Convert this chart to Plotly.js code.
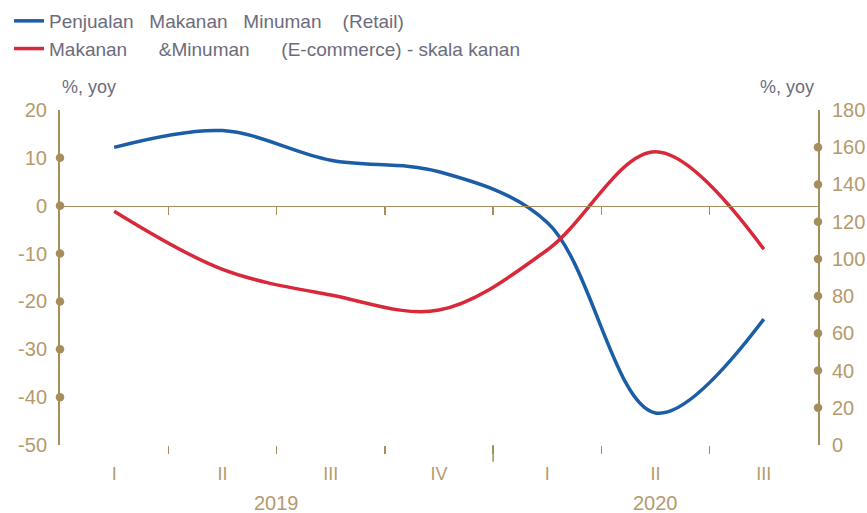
<!DOCTYPE html>
<html>
<head>
<meta charset="utf-8">
<script src="https://cdn.plot.ly/plotly-3.0.1.min.js"></script>
<style>html,body{margin:0;padding:0;background:#fff;}#chart{width:867px;height:513px;}</style>
</head>
<body>
<div id="chart"></div>
<script>
var quarterIdx = [0, 1, 2, 3, 4, 5, 6];
var quarterLabels = ['I', 'II', 'III', 'IV', 'I', 'II', 'III'];
var years = ['2019', '2020'];
var retail = [12.2, 15.7, 9.5, 7.1, -3.5, -43.3, -23.7];
var ecommerce = [125.6, 94.4, 80.6, 72.5, 104.8, 157.6, 105.2];
var leftDots = [10, 0, -10, -20, -30, -40];
var rightDots = [20, 40, 60, 80, 100, 120, 140, 160];
var leftTicks = [20, 10, 0, -10, -20, -30, -40, -50];
var leftTickText = ['20', '10', '0', '-10', '-20', '-30', '-40', '-50'];
var rightTicks = [0, 20, 40, 60, 80, 100, 120, 140, 160, 180];
var boundaries = [0.5, 1.5, 2.5, 3.5, 4.5, 5.5];

var tan = '#a48f5c';
var labelCol = '#b49a6c';
var textCol = '#6c6c7c';
var F = 'Liberation Sans, Arial, sans-serif';
function gap(n) { return new Array(n + 1).join('\u00a0'); }

var traces = [
  {x: quarterIdx, y: retail, type: 'scatter', mode: 'lines', xaxis: 'x', yaxis: 'y',
   name: 'Penjualan' + gap(3) + 'Makanan' + gap(3) + 'Minuman' + gap(4) + '(Retail)',
   line: {color: '#1b5ea6', width: 3.5, shape: 'spline', smoothing: 1}},
  {x: quarterIdx, y: ecommerce, type: 'scatter', mode: 'lines', xaxis: 'x', yaxis: 'y2',
   name: 'Makanan' + gap(6) + '&Minuman' + gap(6) + '(E-commerce) - skala kanan',
   line: {color: '#d8283a', width: 3.5, shape: 'spline', smoothing: 1}},
  {x: leftDots.map(function(){return -0.5;}), y: leftDots, type: 'scatter', mode: 'markers',
   xaxis: 'x', yaxis: 'y', showlegend: false, cliponaxis: false, hoverinfo: 'skip',
   marker: {color: tan, size: 8.5}},
  {x: rightDots.map(function(){return 6.5;}), y: rightDots, type: 'scatter', mode: 'markers',
   xaxis: 'x2', yaxis: 'y2', showlegend: false, cliponaxis: false, hoverinfo: 'skip',
   marker: {color: tan, size: 8.5}}
];

var layout = {
  width: 867, height: 513,
  margin: {l: 60, r: 49, t: 110, b: 68, autoexpand: false},
  paper_bgcolor: '#fff', plot_bgcolor: '#fff',
  font: {family: F, color: textCol, size: 17},
  showlegend: true,
  legend: {xref: 'container', yref: 'container', x: 9 / 867, y: 1 - 2 / 513, xanchor: 'left', yanchor: 'top',
           bgcolor: 'rgba(0,0,0,0)', font: {family: F, size: 19, color: textCol}, tracegroupgap: 0, itemwidth: 30},
  xaxis: {range: [-0.5, 6.5], tickmode: 'array', tickvals: quarterIdx, ticktext: quarterLabels,
          ticks: '', showline: false, showgrid: false, zeroline: false,
          tickfont: {family: F, size: 18, color: labelCol}, ticklabelstandoff: 16,
          minor: {tickmode: 'array', tickvals: boundaries, ticks: 'outside', ticklen: 8, tickwidth: 1.5, tickcolor: tan, showgrid: false}},
  xaxis2: {range: [-0.5, 6.5], overlaying: 'x', anchor: 'free', position: 50 / 70,
           tickmode: 'array', tickvals: boundaries, ticks: 'outside', ticklen: 8, tickwidth: 1.5, tickcolor: tan,
           showticklabels: false, showline: true, linecolor: tan, linewidth: 1.5, showgrid: false, zeroline: false},
  yaxis: {range: [-50, 20], tickmode: 'array', tickvals: leftTicks, ticktext: leftTickText,
          showline: true, linecolor: tan, linewidth: 2,
          ticks: '', showgrid: false, zeroline: false, tickfont: {family: F, size: 20, color: labelCol},
          ticklabelstandoff: 7},
  yaxis2: {range: [0, 180], overlaying: 'y', side: 'right', anchor: 'x', tickmode: 'array', tickvals: rightTicks,
           showline: true, linecolor: tan, linewidth: 2, ticks: '', showgrid: false, zeroline: false,
           tickfont: {family: F, size: 20, color: labelCol}, ticklabelstandoff: 8},
  shapes: [
    {type: 'line', xref: 'x', yref: 'paper', x0: 3.5, x1: 3.5, y0: 0, y1: -0.05, line: {color: tan, width: 1.5}}
  ],
  annotations: [
    {text: '%, yoy', xref: 'paper', yref: 'paper', x: 0, y: 1.07, xanchor: 'left', yanchor: 'middle',
     showarrow: false, font: {family: F, size: 18, color: textCol}},
    {text: '%, yoy', xref: 'paper', yref: 'paper', x: 0.997, y: 1.07, xanchor: 'right', yanchor: 'middle',
     showarrow: false, font: {family: F, size: 18, color: textCol}},
    {text: years[0], xref: 'x', yref: 'paper', x: 1.5, y: -0.173, xanchor: 'center', yanchor: 'middle',
     showarrow: false, font: {family: F, size: 20, color: labelCol}},
    {text: years[1], xref: 'x', yref: 'paper', x: 5, y: -0.173, xanchor: 'center', yanchor: 'middle',
     showarrow: false, font: {family: F, size: 20, color: labelCol}}
  ]
};

Plotly.newPlot('chart', traces, layout, {displayModeBar: false, staticPlot: true});
</script>
</body>
</html>
